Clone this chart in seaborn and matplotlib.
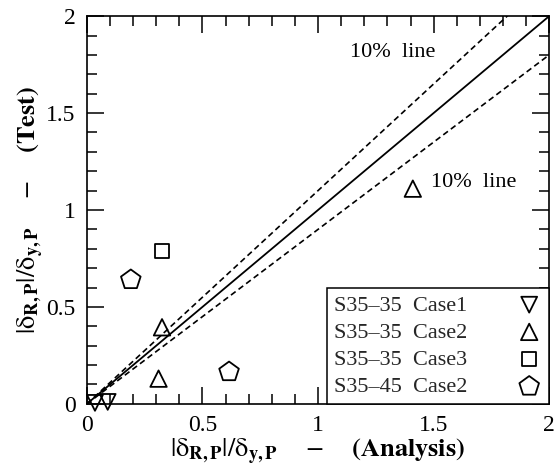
import numpy as np
import pandas as pd
import matplotlib
matplotlib.use("Agg")
import matplotlib.pyplot as plt
import seaborn as sns
from matplotlib.ticker import MultipleLocator

# ---- data ----
case1_x = [0.035, 0.09]
case1_y = [0.005, 0.01]
case2_x = [0.325, 0.31, 1.41]
case2_y = [0.395, 0.13, 1.11]
case3_x = [0.325]
case3_y = [0.79]
case4_x = [0.19, 0.615]
case4_y = [0.64, 0.165]
series_names = ["S35\u201335  Case1", "S35\u201335  Case2", "S35\u201335  Case3", "S35\u201345  Case2"]

ref_x = [0.0, 2.0]
ratio_solid = 1.0
ratio_upper = 1.1
ratio_lower = 0.9

ticks = [0, 0.5, 1, 1.5, 2]
tick_labels = ["0", "0.5", "1", "1.5", "2"]

# ---- style ----
sns.set_theme(style="ticks")
plt.rcParams["font.family"] = ["Liberation Serif", "DejaVu Serif"]
plt.rcParams["mathtext.fontset"] = "stix"

fig = plt.figure(figsize=(5.57, 4.74), dpi=100)
ax = fig.add_axes([0.156, 0.148, 0.830, 0.818])

# reference lines
rx = np.array(ref_x)
sns.lineplot(x=rx, y=ratio_solid * rx, ax=ax, color="black", lw=1.3)
sns.lineplot(x=rx, y=ratio_upper * rx, ax=ax, color="black", lw=1.2, linestyle=(0, (3.5, 2.2)))
sns.lineplot(x=rx, y=ratio_lower * rx, ax=ax, color="black", lw=1.2, linestyle=(0, (3.5, 2.2)))

series = [
    (case1_x, case1_y, "v", 130),
    (case2_x, case2_y, "^", 140),
    (case3_x, case3_y, "s", 105),
    (case4_x, case4_y, "p", 220),
]
for (xs, ys, m, s), name in zip(series, series_names):
    sns.scatterplot(x=xs, y=ys, marker=m, s=s, color="black", ax=ax,
                    label=name, legend=False, clip_on=False, zorder=3)

for coll in ax.collections:
    coll.set_facecolor("none")
    coll.set_edgecolor("black")
    coll.set_linewidth(1.3)

ax.set_xlim(0, 2)
ax.set_ylim(0, 2)
ax.set_xticks(ticks)
ax.set_xticklabels(tick_labels)
ax.set_yticks(ticks)
ax.set_yticklabels(tick_labels)
ax.xaxis.set_minor_locator(MultipleLocator(0.1))
ax.yaxis.set_minor_locator(MultipleLocator(0.1))
ax.tick_params(which="both", direction="in", top=True, right=True, color="black",
               labelsize=17, labelcolor="black", width=1.1)
ax.tick_params(which="major", length=12, pad=8)
ax.tick_params(which="minor", length=7)
for sp in ax.spines.values():
    sp.set_visible(True)
    sp.set_color("black")
    sp.set_linewidth(1.2)

lab = r"$|\mathrm{\delta}_{\mathbf{R,P}}|/\mathrm{\delta}_{\mathbf{y,P}}\quad\;-\quad\;\mathbf{(%s)}$"
ax.set_xlabel(lab % "Analysis", fontsize=19, color="black", labelpad=1)
ax.set_ylabel(lab % "Test", fontsize=19, color="black", labelpad=0)

ax.text(1.14, 1.81, "10%  line", fontsize=16, ha="left", va="center", color="black")
ax.text(1.49, 1.14, "10%  line", fontsize=16, ha="left", va="center", color="black")

leg = ax.legend(loc="lower right", borderaxespad=0, markerfirst=False, fancybox=False,
                frameon=True, edgecolor="black", framealpha=1, fontsize=16,
                labelspacing=0.3, handletextpad=2.2, borderpad=0.3, handlelength=1.2)
leg.get_frame().set_linewidth(1.1)

fig.savefig("out.png", dpi=100, facecolor="white")
